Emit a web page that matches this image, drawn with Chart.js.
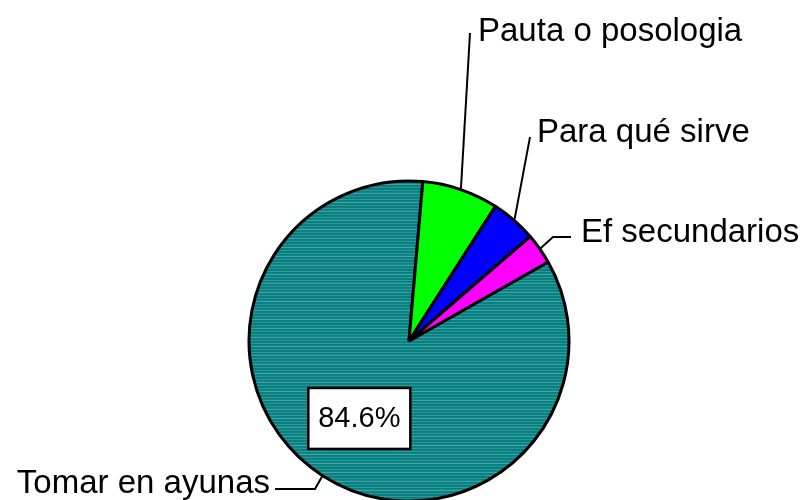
<!DOCTYPE html>
<html>
<head>
<meta charset="utf-8">
<script src="https://cdn.jsdelivr.net/npm/chart.js@4"></script>
<style>
  html, body { margin: 0; padding: 0; background: #fff; overflow: hidden; }
  #wrap { width: 803px; height: 500px; }
</style>
</head>
<body>
<div id="wrap"><canvas id="myChart" width="803" height="500"></canvas></div>
<script>
const categories = ['Tomar en ayunas', 'Pauta o posologia', 'Para qué sirve', 'Ef secundarios'];
const percentages = [84.6, 7.7, 4.6, 3.1];
const shownLabels = ['84.6%']; // only the big slice carries a value label

const ctx = document.getElementById('myChart').getContext('2d');

// teal slice has a striped texture in the picture
function tealPattern() {
  const c = document.createElement('canvas');
  c.width = 4;
  c.height = 9;
  const p = c.getContext('2d');
  const rows = ['#087f7f', '#2c9898', '#087f7f', '#138787', '#40a4a4', '#087f7f', '#0d8383', '#289494', '#087f7f'];
  rows.forEach((col, i) => {
    p.fillStyle = col;
    p.fillRect(0, i, 4, 1);
  });
  return ctx.createPattern(c, 'repeat');
}

// where the callouts sit (dragged by hand in the original)
const callouts = [
  { bend: [315, 489], end: [275, 489], text: [270, 493], align: 'right' },
  { bend: null, end: [470, 33], text: [478, 41], align: 'left' },
  { bend: null, end: [530, 137], text: [537, 142], align: 'left' },
  { bend: [553, 237], end: [571, 237], text: [581, 242], align: 'left' }
];

const calloutPlugin = {
  id: 'callouts',
  afterDatasetsDraw(chart) {
    const c = chart.ctx;
    const arcs = chart.getDatasetMeta(0).data;
    c.save();
    c.strokeStyle = '#000';
    c.lineWidth = 2;
    c.fillStyle = '#000';
    c.font = '33px "Liberation Sans", Arial, sans-serif';
    c.textBaseline = 'alphabetic';
    arcs.forEach((arc, i) => {
      const mid = (arc.startAngle + arc.endAngle) / 2;
      const ax = arc.x + Math.cos(mid) * (arc.outerRadius + 1);
      const ay = arc.y + Math.sin(mid) * (arc.outerRadius + 1);
      const co = callouts[i];
      c.beginPath();
      c.moveTo(ax, ay);
      if (co.bend) c.lineTo(co.bend[0], co.bend[1]);
      c.lineTo(co.end[0], co.end[1]);
      c.stroke();
      c.textAlign = co.align;
      c.fillText(categories[i], co.text[0], co.text[1]);
    });

    // value label box on the big slice
    const big = arcs[0];
    const mid = (big.startAngle + big.endAngle) / 2;
    const cx = big.x + Math.cos(mid) * big.outerRadius * 0.575;
    const cy = big.y + Math.sin(mid) * big.outerRadius * 0.575;
    const w = 102, h = 61;
    c.fillStyle = '#fff';
    c.fillRect(cx - w / 2, cy - h / 2, w, h);
    c.lineWidth = 2.5;
    c.strokeRect(cx - w / 2, cy - h / 2, w, h);
    c.fillStyle = '#000';
    c.font = '29px "Liberation Sans", Arial, sans-serif';
    c.textAlign = 'center';
    c.textBaseline = 'middle';
    c.fillText(shownLabels[0], cx, cy + 1);
    c.restore();
  }
};

const chart = new Chart(ctx, {
  type: 'pie',
  data: {
    labels: categories,
    datasets: [{
      data: percentages,
      backgroundColor: [tealPattern(), '#00ff00', '#0000ff', '#ff00ff'],
      borderColor: '#000',
      borderWidth: 3,
      clip: false
    }]
  },
  options: {
    responsive: false,
    devicePixelRatio: 1,
    animation: false,
    rotation: 60.4,
    radius: 160,
    layout: { padding: { left: 15, right: 0, top: 182, bottom: 0 } },
    plugins: {
      legend: { display: false },
      tooltip: { enabled: false }
    }
  },
  plugins: [calloutPlugin]
});
</script>
</body>
</html>
